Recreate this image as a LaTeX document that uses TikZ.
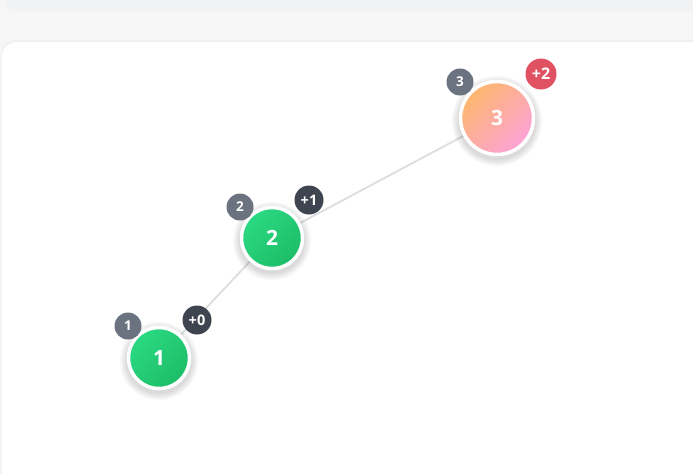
\documentclass[tikz,border=0pt]{standalone}
\usepackage{fontspec}
\setmainfont{Open Sans}
\usetikzlibrary{backgrounds,calc}
\definecolor{pagebg}{HTML}{F6F6F7}
\definecolor{toppanel}{HTML}{F1F2F4}
\definecolor{edgecol}{HTML}{DCDDE0}
\definecolor{greenA}{HTML}{2BD983}
\definecolor{greenB}{HTML}{1DBD66}
\definecolor{orangeA}{HTML}{FDB66C}
\definecolor{pinkB}{HTML}{FDA2D8}
\definecolor{idbadge}{HTML}{6B7280}
\definecolor{deltabadge}{HTML}{3F4550}
\definecolor{hotbadge}{HTML}{E05262}
\pgfdeclarelayer{edges}
\pgfsetlayers{background,edges,main}
\tikzset{
  vnode/.style={circle, draw=white, line width=3.5pt, minimum size=61pt, inner sep=0pt,
    text=white, font=\fontsize{21}{21}\selectfont\bfseries},
  greennode/.style={vnode, shading=axis, top color=greenA, bottom color=greenB, shading angle=45},
  hotnode/.style={vnode, minimum size=73pt, shading=axis, top color=orangeA, bottom color=pinkB, shading angle=45},
  badge/.style={circle, inner sep=0pt, text=white, font=\fontsize{13.5}{13.5}\selectfont\bfseries},
  idb/.style={badge, fill=idbadge, minimum size=27pt},
  deltab/.style={badge, fill=deltabadge, minimum size=29pt, font=\fontsize{14.5}{14.5}\selectfont\bfseries},
  hotb/.style={badge, fill=hotbadge, minimum size=31pt, font=\fontsize{16}{16}\selectfont\bfseries},
  link/.style={draw=edgecol, line width=1.8pt},
  shadowring/.style={fill=black, opacity=0.022}
}
\begin{document}
\begin{tikzpicture}[x=1pt,y=-1pt]
\useasboundingbox (0,0) rectangle (693,474);
\begin{scope}[on background layer]
  \fill[pagebg] (0,0) rectangle (693,474);
  \fill[toppanel] (5,-20) -- (693,-20) -- (693,11) -- (17,11) arc[start angle=90,end angle=180,radius=12] -- cycle;
  \fill[black,opacity=0.025] (1,474) -- (1,56) arc[start angle=180,end angle=270,radius=16] -- (693,40) -- (693,474) -- cycle;
  \fill[white] (2,474) -- (2,57) arc[start angle=180,end angle=270,radius=15] -- (693,42) -- (693,474) -- cycle;
\end{scope}

\node[greennode] (n1) at (159,358) {1};
\node[greennode] (n2) at (272,238) {2};
\node[hotnode] (n3) at (497,118) {3};

\node[idb] (b1) at (128,326) {1};
\node[deltab] (d1) at (197,320) {+0};
\node[idb] (b2) at (240,207) {2};
\node[deltab] (d2) at (309,200) {+1};
\node[idb] (b3) at (460,82) {3};
\node[hotb] (d3) at (541,74) {+2};

\begin{pgfonlayer}{edges}
  \draw[link] (n1.center) -- (n2.center);
  \draw[link] (n2.center) -- (n3.center);
  \foreach \n/\r in {n1/32, n2/32, n3/38}{
    \foreach \k in {1,...,6}{
      \fill[shadowring] ($(\n.center)+(0,3)$) circle ({\r+\k*1.2});
    }
  }
\end{pgfonlayer}
\end{tikzpicture}
\end{document}
